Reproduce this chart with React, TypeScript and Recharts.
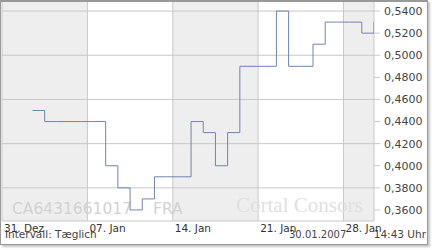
import { CartesianGrid, Customized, Line, LineChart, XAxis, YAxis } from 'recharts';

// day of January 2007 (31 Dec = 0)
const days = [3, 4, 5, 6, 7, 8, 9, 10, 11, 12, 13, 14, 15, 16, 17, 18, 19, 20, 21, 22, 23, 24, 25, 26, 27, 28, 29, 30, 31];
const prices = [
  0.45, 0.44, 0.44, 0.44, 0.44, 0.44, 0.4, 0.38, 0.36, 0.37, 0.39, 0.39, 0.39, 0.44, 0.43, 0.4, 0.43, 0.49, 0.49,
  0.49, 0.54, 0.49, 0.49, 0.51, 0.53, 0.53, 0.53, 0.52, 0.53,
];

const xTicks = [0, 7, 14, 21, 28];
const xLabels = ['31. Dez', '07. Jan', '14. Jan', '21. Jan', '28. Jan'];
const yTicks = [0.36, 0.38, 0.4, 0.42, 0.44, 0.46, 0.48, 0.5, 0.52, 0.54];

// each daily step is centred on its day
const data = days.map((d, i) => ({ x: d - 0.5, v: prices[i] }));

const font = 'DejaVu Sans, Verdana, sans-serif';

const DateTick = (props: any) => {
  const { x, y, payload } = props;
  return (
    <text x={x + 2} y={y + 11} fontSize={10.5} fontFamily={font} fill='#333'>
      {xLabels[xTicks.indexOf(payload.value)]}
    </text>
  );
};

const Overlay = () => (
  <g>
    <text x={12} y={214} fontSize={15.5} fontFamily={font} fill='#d2d2d2'>
      CA6431661017
    </text>
    <text x={153} y={214} fontSize={15.5} fontFamily={font} fill='#d2d2d2'>
      FRA
    </text>
    <text x={236} y={212} fontSize={21} fontFamily='Liberation Serif, serif' fill='#e0e0e0'>
      Cortal Consors
    </text>
    <text x={5} y={238} fontSize={10.5} fontFamily={font} fill='#444'>
      Intervall: Tæglich
    </text>
    <text x={289} y={238} fontSize={10} fontFamily={font} fill='#444'>
      30.01.2007
    </text>
    <text x={426} y={238} fontSize={10.5} fontFamily={font} fill='#444' textAnchor='end'>
      14:43 Uhr
    </text>
  </g>
);

export default function App() {
  return (
    <div style={{ position: 'absolute', left: 0, top: 0, width: 432, height: 250, background: '#fff' }}>
      <LineChart width={432} height={250} data={data} margin={{ top: 0, right: 0, bottom: 9, left: 2 }}>
        <CartesianGrid stroke='#c8c8c8' verticalFill={['#eeeeee', '#ffffff']} fillOpacity={1} />
        <XAxis
          dataKey='x'
          type='number'
          domain={[0, 30.5]}
          ticks={xTicks}
          interval={0}
          allowDataOverflow
          height={20}
          axisLine={false}
          tickLine={false}
          tickSize={0}
          tickMargin={0}
          tick={<DateTick />}
        />
        <YAxis
          orientation='right'
          domain={[0.35, 0.55]}
          ticks={yTicks}
          width={58}
          axisLine={false}
          tickLine={{ stroke: '#c8c8c8' }}
          tickSize={6}
          tickMargin={4}
          tickFormatter={(v: number) => v.toFixed(4).replace('.', ',')}
          tick={{ fontSize: 11, fill: '#444', fontFamily: font }}
        />
        <Customized component={<Overlay />} />
        <Line
          dataKey='v'
          type='stepAfter'
          stroke='#6f84b1'
          strokeWidth={1}
          dot={false}
          isAnimationActive={false}
        />
      </LineChart>
      <div
        style={{
          position: 'absolute',
          left: 0,
          top: 0,
          width: 428,
          height: 245,
          boxSizing: 'border-box',
          border: '1px solid #999',
          borderTopWidth: 2,
          boxShadow: '2px 2px 2px #c4c4c4',
          pointerEvents: 'none',
        }}
      />
    </div>
  );
}
